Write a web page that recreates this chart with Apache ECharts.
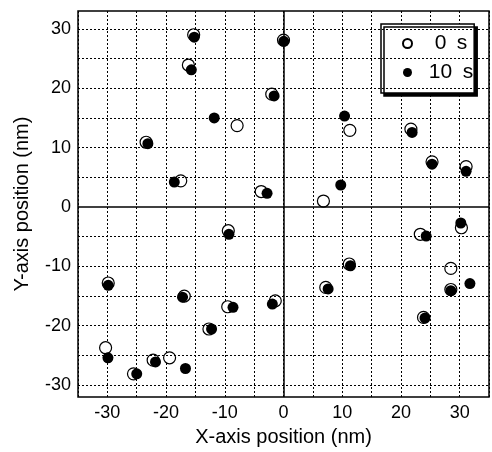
<!DOCTYPE html>
<html>
<head>
<meta charset="utf-8">
<script src="https://cdn.jsdelivr.net/npm/echarts@6/dist/echarts.min.js"></script>
<style>
  html, body { margin: 0; padding: 0; background: #fff; }
  #chart { width: 492px; height: 452px; }
</style>
</head>
<body>
<div id="chart"></div>
<script>
// positions at 0 s (open circles)
const pos0s = [
  [-15.3, 29.0], [-16.2, 23.9], [-2.0, 19.0], [-7.9, 13.7], [-23.4, 10.9],
  [-17.5, 4.4], [-3.8, 2.6], [0.0, 28.1], [11.3, 12.9], [21.7, 13.1],
  [25.3, 7.6], [31.1, 6.8], [6.8, 1.0], [-9.4, -4.0], [-29.85, -12.8],
  [-16.9, -15.0], [-9.5, -16.8], [-1.4, -15.8], [-12.7, -20.55], [-30.3, -23.7],
  [-22.2, -25.8], [-19.4, -25.4], [-25.55, -28.1], [7.2, -13.55], [11.2, -9.6],
  [23.3, -4.6], [30.3, -3.5], [28.5, -10.35], [28.5, -13.9], [23.85, -18.6]
];

// positions at 10 s (filled circles)
const pos10s = [
  [-15.2, 28.6], [-15.7, 23.1], [-1.6, 18.7], [-11.8, 15.0], [-23.1, 10.65],
  [-18.6, 4.2], [-2.8, 2.3], [0.05, 27.9], [10.4, 15.3], [21.9, 12.55],
  [25.3, 7.2], [31.1, 6.0], [9.75, 3.7], [-9.3, -4.6], [-29.85, -13.2],
  [-17.2, -15.2], [-8.6, -16.9], [-1.9, -16.35], [-12.25, -20.55], [-29.9, -25.4],
  [-21.8, -26.1], [-16.7, -27.2], [-25.0, -28.1], [7.6, -13.8], [11.4, -9.9],
  [24.3, -4.9], [30.2, -2.7], [31.75, -12.9], [28.5, -14.1], [24.1, -18.7]
];

const seriesNames = ['0 s', '10 s'];
const yTickLabels = [-30, -20, -10, 0, 10, 20, 30];
const yGridValues = [-30, -25, -20, -15, -10, -5, 5, 10, 15, 20, 25, 30];

const chart = echarts.init(document.getElementById('chart'), null, {renderer: 'canvas'});

const font = 'Liberation Sans, Arial, sans-serif';
const tenOnly = v => (Math.abs(v % 10) < 1e-6) ? String(Math.round(v)) : '';
const dotStyle = {color: '#000', width: 1, type: [2, 2]};

chart.setOption({
  backgroundColor: '#fff',
  animation: false,
  grid: {
    left: 78, top: 11, right: 1, bottom: 53,
    show: true, borderColor: '#000', borderWidth: 1.5, backgroundColor: 'transparent'
  },
  legend: {
    data: seriesNames,
    orient: 'vertical',
    left: 381, top: 24,
    padding: [9, 1, 10, 21],
    itemGap: 8,
    itemWidth: 9, itemHeight: 9,
    backgroundColor: '#fff',
    borderColor: '#000', borderWidth: 1.5,
    shadowColor: '#000', shadowBlur: 0, shadowOffsetX: 3, shadowOffsetY: 3,
    formatter: name => '{t|' + name.replace(' ', '\u2002') + '}',
    textStyle: {
      fontFamily: font, fontSize: 21, color: '#000',
      rich: {t: {fontFamily: font, fontSize: 21, color: '#000', width: 68, align: 'center'}}
    }
  },
  xAxis: {
    type: 'value', min: -35, max: 35, interval: 5,
    name: 'X-axis position (nm)', nameLocation: 'middle', nameGap: 30,
    nameTextStyle: {fontFamily: font, fontSize: 20, color: '#000'},
    axisLine: {show: false}, axisTick: {show: false},
    axisLabel: {formatter: tenOnly, fontFamily: font, fontSize: 18, color: '#000', margin: 7},
    splitLine: {show: true, lineStyle: dotStyle}
  },
  yAxis: {
    type: 'value', min: -32, max: 33,
    name: 'Y-axis position (nm)', nameLocation: 'middle', nameGap: 46,
    nameTextStyle: {fontFamily: font, fontSize: 20, color: '#000'},
    axisLine: {show: false}, axisTick: {show: false},
    axisLabel: {customValues: yTickLabels, fontFamily: font, fontSize: 18, color: '#000', margin: 7},
    splitLine: {show: false}
  },
  series: [
    {
      name: 'grid', type: 'scatter', data: [], z: 1, silent: true,
      markLine: {
        silent: true, symbol: 'none', animation: false,
        label: {show: false},
        lineStyle: dotStyle,
        data: yGridValues.map(v => ({yAxis: v}))
      }
    },
    {
      name: 'zero', type: 'scatter', data: [], z: 2, silent: true,
      markLine: {
        silent: true, symbol: 'none', animation: false,
        label: {show: false},
        lineStyle: {color: '#000', width: 1.5, type: 'solid'},
        data: [{xAxis: 0}, {yAxis: 0}]
      }
    },
    {
      name: seriesNames[0], type: 'scatter', data: pos0s, z: 3,
      symbol: 'circle', symbolSize: 12,
      itemStyle: {color: '#fff', borderColor: '#000', borderWidth: 1.2, opacity: 1}
    },
    {
      name: seriesNames[1], type: 'scatter', data: pos10s, z: 4,
      symbol: 'circle', symbolSize: 11,
      itemStyle: {color: '#000', borderColor: '#000', borderWidth: 0, opacity: 1}
    }
  ]
});
</script>
</body>
</html>
